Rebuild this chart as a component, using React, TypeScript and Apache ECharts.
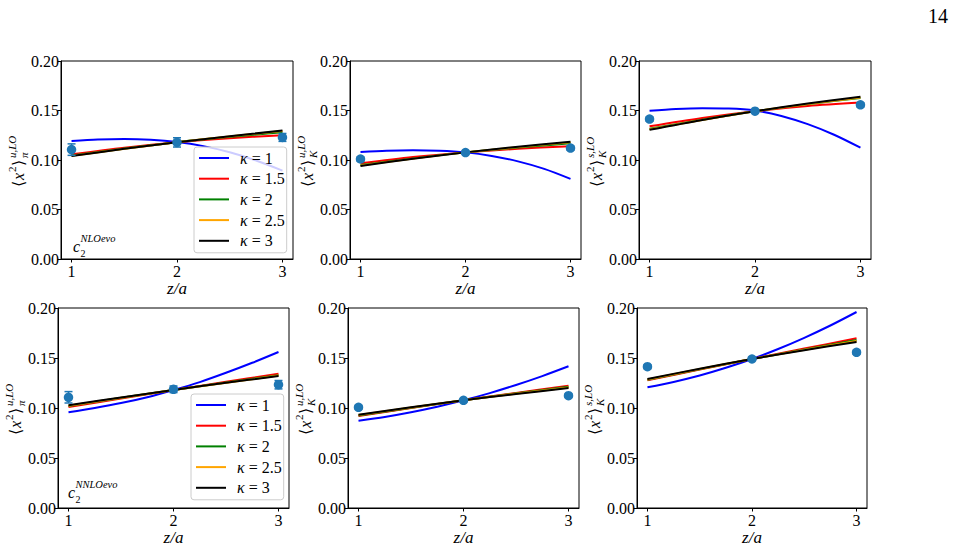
import React, { useEffect, useRef } from "react";
import * as echarts from "echarts";

const FONT = '"Liberation Serif", "DejaVu Serif", serif';

// ---------- data ----------
const kappaNames = ["κ = 1", "κ = 1.5", "κ = 2", "κ = 2.5", "κ = 3"];
const kappaColors = ["#0000ff", "#ff0000", "#008000", "#ffa500", "#000000"];

const zPoints = [1, 2, 3];
const xCurve = [1, 1.25, 1.5, 1.75, 2, 2.25, 2.5, 2.75, 3];
const xLine5 = [1, 1.5, 2, 2.5, 3];
const xLine3 = [1, 2, 3];

// panel order: πu NLO, Ku NLO, Ks NLO, πu NNLO, Ku NNLO, Ks NNLO
const kappa1 = [
  [0.1191, 0.1207, 0.1213, 0.1205, 0.1182, 0.114, 0.1078, 0.0995, 0.0893],
  [0.1081, 0.1094, 0.1099, 0.1094, 0.1077, 0.1041, 0.0986, 0.091, 0.0809],
  [0.1497, 0.1515, 0.1523, 0.152, 0.15, 0.1445, 0.1362, 0.1255, 0.1124],
  [0.0957, 0.1, 0.1049, 0.1108, 0.118, 0.1259, 0.1352, 0.1452, 0.156],
  [0.0873, 0.0911, 0.0958, 0.1013, 0.1077, 0.1149, 0.123, 0.1319, 0.1417],
  [0.1207, 0.1261, 0.1325, 0.1402, 0.149, 0.159, 0.1702, 0.1825, 0.196],
];
const kappa15 = [
  [0.1057, 0.1125, 0.118, 0.122, 0.125],
  [0.0966, 0.103, 0.1077, 0.1113, 0.114],
  [0.134, 0.1425, 0.1493, 0.1545, 0.158],
  [0.101, 0.1095, 0.118, 0.1262, 0.1343],
  [0.092, 0.1, 0.1077, 0.1151, 0.1223],
  [0.1277, 0.1385, 0.149, 0.1594, 0.1697],
];
const kappa2 = [
  [0.1045, 0.118, 0.128],
  [0.095, 0.1077, 0.117],
  [0.1315, 0.1493, 0.1625],
  [0.102, 0.118, 0.1328],
  [0.0926, 0.1077, 0.1212],
  [0.1282, 0.149, 0.168],
];
const kappa25 = [
  [0.1042, 0.118, 0.1292],
  [0.0945, 0.1077, 0.1178],
  [0.131, 0.1493, 0.1632],
  [0.1023, 0.118, 0.1324],
  [0.093, 0.1077, 0.1206],
  [0.1286, 0.149, 0.167],
];
const kappa3 = [
  [0.104, 0.1113, 0.118, 0.124, 0.1297],
  [0.094, 0.1012, 0.1077, 0.1134, 0.1185],
  [0.1305, 0.1405, 0.1493, 0.157, 0.1638],
  [0.1027, 0.1105, 0.118, 0.1252, 0.132],
  [0.0933, 0.1007, 0.1077, 0.114, 0.12],
  [0.129, 0.1393, 0.149, 0.1578, 0.166],
];
const latticeY = [
  [0.1105, 0.1178, 0.1228],
  [0.101, 0.1075, 0.112],
  [0.1413, 0.1493, 0.1557],
  [0.1107, 0.1187, 0.1233],
  [0.1007, 0.1077, 0.1123],
  [0.1413, 0.149, 0.1557],
];
const latticeErr = [
  [0.0058, 0.0047, 0.004],
  [0.002, 0.0015, 0.002],
  [0.002, 0.0015, 0.002],
  [0.0057, 0.0033, 0.0042],
  [0.0018, 0.0015, 0.0018],
  [0.002, 0.0015, 0.002],
];
const xTicks = [1, 2, 3];
const yLabelSup = ["u,LO", "u,LO", "s,LO", "u,LO", "u,LO", "s,LO"];
const yLabelSub = ["π", "K", "K", "π", "K", "K"];
const schemeSup = ["NLOevo", "NNLOevo"];

// ---------- layout ----------
const gridBoxes = [
  [61, 61, 232, 198],
  [350, 61, 231, 198],
  [639, 61, 232, 198],
  [58, 308, 231, 200],
  [348, 308, 231, 200],
  [637, 308, 230, 200],
];

function yLabel(left: number, top: number, h: number, sup: string, sub: string) {
  const cy = top + h / 2;
  const base = { fill: "#000", verticalAlign: "middle", align: "left" };
  return {
    type: "group",
    x: left - 43,
    y: cy + 27,
    rotation: Math.PI / 2,
    children: [
      { type: "text", x: 0, y: 0, style: { ...base, text: "⟨", font: `16px ${FONT}` } },
      { type: "text", x: 7, y: 0, style: { ...base, text: "x", font: `italic 16px ${FONT}` } },
      { type: "text", x: 15, y: -6, style: { ...base, text: "2", font: `11px ${FONT}` } },
      { type: "text", x: 21, y: 0, style: { ...base, text: "⟩", font: `16px ${FONT}` } },
      { type: "text", x: 29, y: -6, style: { ...base, text: sup, font: `italic 11px ${FONT}` } },
      { type: "text", x: 29, y: 6, style: { ...base, text: sub, font: `italic 11px ${FONT}` } },
    ],
  };
}

function annot(x: number, y: number, sup: string) {
  const base = { fill: "#000", verticalAlign: "middle", align: "left" };
  return {
    type: "group",
    x,
    y,
    children: [
      { type: "text", x: 0, y: 0, style: { ...base, text: "c", font: `italic 16px ${FONT}` } },
      { type: "text", x: 7.5, y: 7, style: { ...base, text: "2", font: `10px ${FONT}` } },
      { type: "text", x: 7.5, y: -8, style: { ...base, text: sup, font: `italic 10.5px ${FONT}` } },
    ],
  };
}

function buildOption() {
  const grid: any[] = [];
  const xAxis: any[] = [];
  const yAxis: any[] = [];
  const series: any[] = [];
  const graphic: any[] = [];
  const lineSets = [
    { xs: xCurve, data: kappa1 },
    { xs: xLine5, data: kappa15 },
    { xs: xLine3, data: kappa2 },
    { xs: xLine3, data: kappa25 },
    { xs: xLine5, data: kappa3 },
  ];
  gridBoxes.forEach((b, i) => {
    grid.push({
      left: b[0],
      top: b[1],
      width: b[2],
      height: b[3],
      show: true,
      borderColor: "#000",
      borderWidth: 1,
      backgroundColor: "transparent",
      containLabel: false,
    });
    xAxis.push({
      type: "value",
      gridIndex: i,
      min: 0.9,
      max: 3.1,
      name: "z/a",
      nameLocation: "middle",
      nameGap: 19,
      nameTextStyle: { fontFamily: FONT, fontStyle: "italic", fontSize: 17, color: "#000", verticalAlign: "top" },
      axisLine: { show: true, onZero: false, lineStyle: { color: "#000", width: 1 } },
      axisTick: { show: true, length: 3.5, customValues: xTicks, lineStyle: { color: "#000" } },
      axisLabel: {
        customValues: xTicks,
        fontFamily: FONT,
        fontSize: 16,
        color: "#000",
        margin: 4,
        formatter: (v: number) => String(v),
      },
      splitLine: { show: false },
    });
    yAxis.push({
      type: "value",
      gridIndex: i,
      min: 0,
      max: 0.2,
      interval: 0.05,
      axisLine: { show: true, onZero: false, lineStyle: { color: "#000", width: 1 } },
      axisTick: { show: true, length: 3.5, lineStyle: { color: "#000" } },
      axisLabel: {
        fontFamily: FONT,
        fontSize: 16,
        color: "#000",
        margin: 2,
        formatter: (v: number) => v.toFixed(2),
      },
      splitLine: { show: false },
    });
    lineSets.forEach((ls, k) => {
      series.push({
        type: "line",
        name: kappaNames[k],
        xAxisIndex: i,
        yAxisIndex: i,
        data: ls.xs.map((x, j) => [x, ls.data[i][j]]),
        symbol: "none",
        smooth: 0.3,
        lineStyle: { color: kappaColors[k], width: 2 },
        itemStyle: { color: kappaColors[k] },
        z: 2 + k * 0.1,
      });
    });
    series.push({
      type: "custom",
      name: "errors" + i,
      xAxisIndex: i,
      yAxisIndex: i,
      data: zPoints.map((z, j) => [z, latticeY[i][j], latticeErr[i][j]]),
      encode: { x: 0, y: 1 },
      z: 4,
      renderItem: (params: any, api: any) => {
        const x = api.value(0);
        const y = api.value(1);
        const e = api.value(2);
        const t = api.coord([x, y + e]);
        const bt = api.coord([x, y - e]);
        const st = { stroke: "#1f77b4", lineWidth: 1.5 };
        return {
          type: "group",
          children: [
            { type: "line", shape: { x1: t[0], y1: t[1], x2: bt[0], y2: bt[1] }, style: st },
            { type: "line", shape: { x1: t[0] - 4, y1: t[1], x2: t[0] + 4, y2: t[1] }, style: st },
            { type: "line", shape: { x1: bt[0] - 4, y1: bt[1], x2: bt[0] + 4, y2: bt[1] }, style: st },
          ],
        };
      },
    });
    series.push({
      type: "scatter",
      name: "lattice" + i,
      xAxisIndex: i,
      yAxisIndex: i,
      data: zPoints.map((z, j) => [z, latticeY[i][j]]),
      symbol: "circle",
      symbolSize: 9.5,
      itemStyle: { color: "#1f77b4", opacity: 1 },
      z: 5,
    });
    graphic.push(yLabel(b[0], b[1], b[3], yLabelSup[i], yLabelSub[i]));
  });

  graphic.push(annot(73, 246, schemeSup[0]));
  graphic.push(annot(68, 492, schemeSup[1]));
  graphic.push({
    type: "text",
    right: 6,
    top: 6,
    style: { text: "14", font: `20px ${FONT}`, fill: "#000" },
  });

  const legendBase = {
    orient: "vertical",
    data: kappaNames,
    icon: "rect",
    itemWidth: 30,
    itemHeight: 2,
    itemGap: 4.7,
    selectedMode: false,
    backgroundColor: "rgba(255,255,255,0.8)",
    borderColor: "#cccccc",
    borderWidth: 1,
    borderRadius: 3,
    padding: [3, 2, 4, 5],
    z: 10,
    formatter: (name: string) => `{i|κ}{n|${name.slice(1)}}`,
    textStyle: {
      color: "#000",
      fontFamily: FONT,
      fontSize: 16,
      lineHeight: 16,
      rich: {
        i: { fontFamily: FONT, fontStyle: "italic", fontSize: 16, lineHeight: 16, padding: [0, 0, 0, 6] },
        n: { fontFamily: FONT, fontSize: 16, lineHeight: 16 },
      },
    },
  };

  return {
    animation: false,
    backgroundColor: "#ffffff",
    grid,
    xAxis,
    yAxis,
    series,
    graphic,
    legend: [
      { ...legendBase, left: 194, top: 147 },
      { ...legendBase, left: 191, top: 394 },
    ],
  };
}

export default function App() {
  const ref = useRef<HTMLDivElement>(null);
  useEffect(() => {
    if (!ref.current) return;
    const chart = echarts.init(ref.current, null, { renderer: "svg" });
    chart.setOption(buildOption() as any);
    return () => chart.dispose();
  }, []);
  return (
    <div
      ref={ref}
      style={{ position: "fixed", left: 0, top: 0, width: 954, height: 554, background: "#fff" }}
    />
  );
}
